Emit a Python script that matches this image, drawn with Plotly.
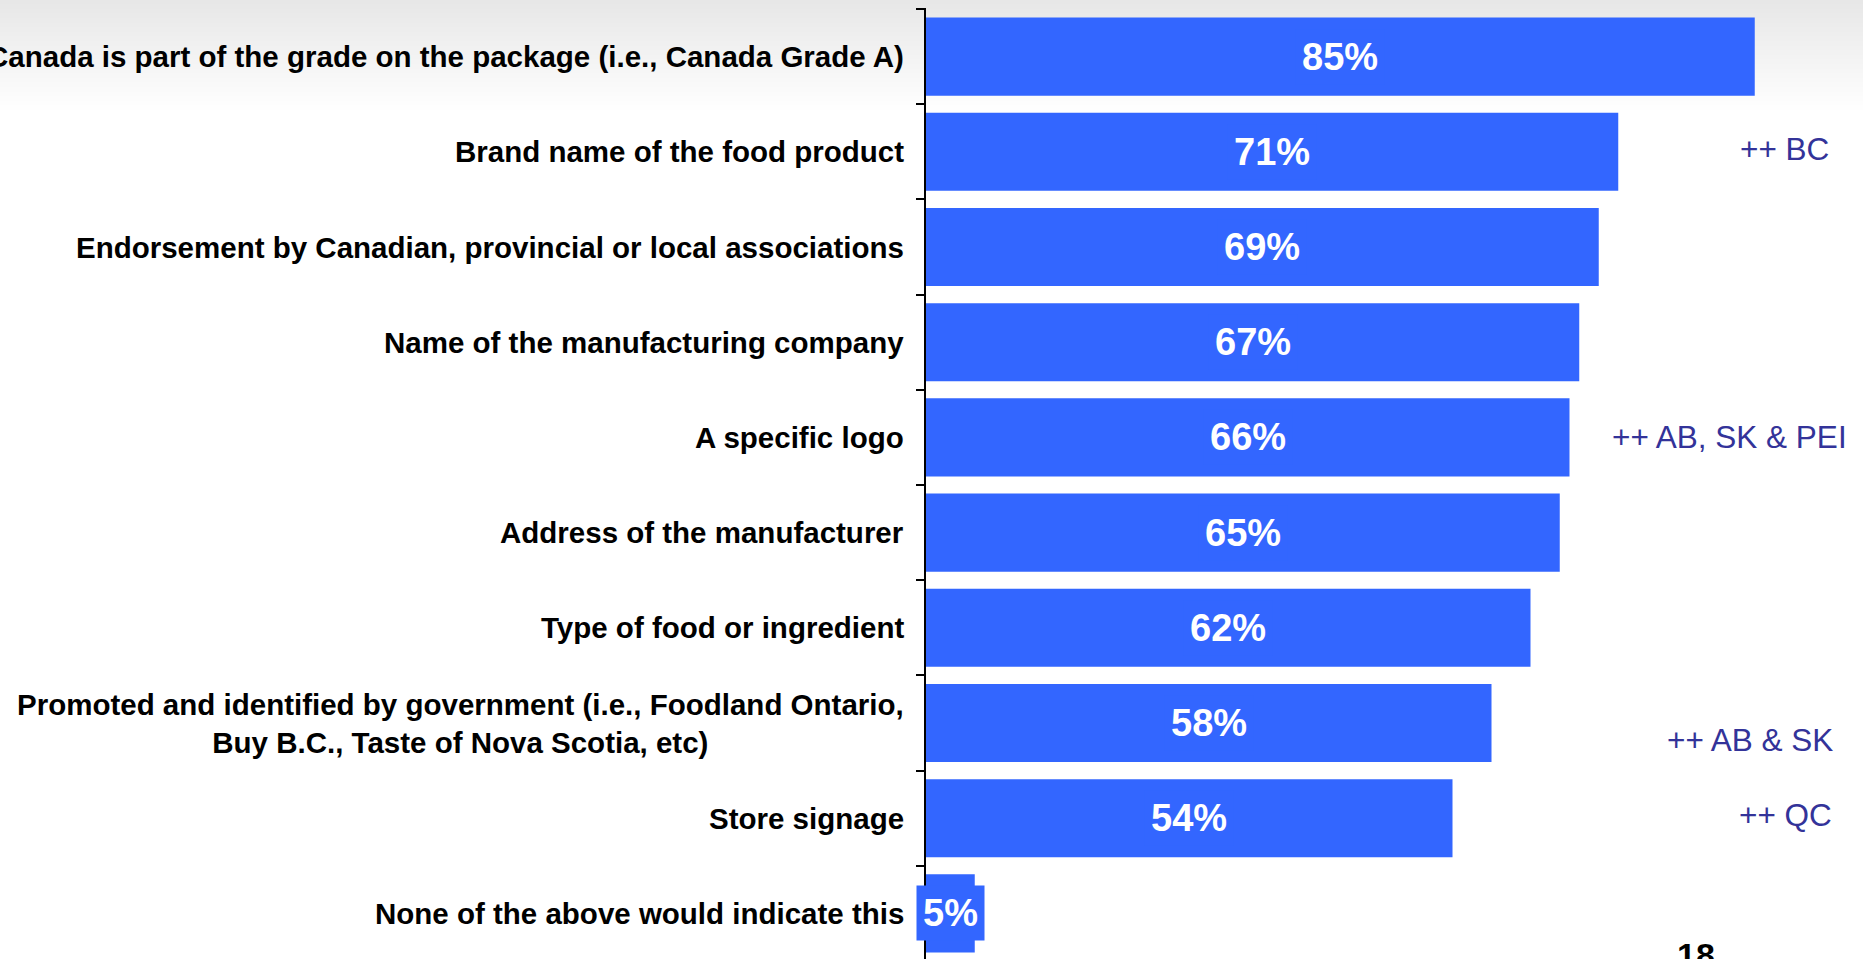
import plotly.graph_objects as go

# Survey items and share of respondents (%)
categories = [
    "Canada is part of the grade on the package (i.e., Canada Grade A)",
    "Brand name of the food product",
    "Endorsement by Canadian, provincial or local associations",
    "Name of the manufacturing company",
    "A specific logo",
    "Address of the manufacturer",
    "Type of food or ingredient",
    "Promoted and identified by government (i.e., Foodland Ontario,<br>Buy B.C., Taste of Nova Scotia, etc)",
    "Store signage",
    "None of the above would indicate this",
]
values = [85, 71, 69, 67, 66, 65, 62, 58, 54, 5]

# Regional call-outs: (row index, text, x right edge in axis units, vertical shift px)
callouts = [
    (1, "++ BC", 92.8, 3),
    (4, "++ AB, SK & PEI", 94.7, 0),
    (7, "++ AB & SK", 93.2, -17),
    (8, "++ QC", 93.1, 3),
]
page_number = "18"

BAR = "#3366FF"
CALLOUT = "#333399"
FONT = "Liberation Sans, Arial, sans-serif"

W, H = 1863, 959
L, R, T, B = 926, 1, 8, 0

fig = go.Figure()

fig.add_trace(go.Bar(
    x=values,
    y=categories,
    orientation="h",
    marker=dict(color=BAR, line=dict(width=0)),
    width=0.82,
    hoverinfo="skip",
    showlegend=False,
))

annotations = []

# Category labels, right-aligned against the axis, lines centred
for cat in categories:
    annotations.append(dict(
        x=0, xref="paper", y=cat, yref="y",
        text=cat, showarrow=False,
        xanchor="right", yanchor="middle", align="center",
        xshift=-20,
        font=dict(family=FONT, size=29.5, color="black", weight="bold"),
    ))

# Value labels centred on each bar
for cat, v in zip(categories, values):
    annotations.append(dict(
        x=v / 2, xref="x", y=cat, yref="y",
        text=f"{v}%", showarrow=False,
        xanchor="center", yanchor="middle",
        bgcolor=BAR, borderpad=6,
        font=dict(family=FONT, size=38, color="white", weight="bold"),
    ))

for idx, txt, xr, dy in callouts:
    annotations.append(dict(
        x=xr, xref="x", y=categories[idx], yref="y",
        text=txt, showarrow=False,
        xanchor="right", yanchor="middle", yshift=dy,
        font=dict(family=FONT, size=31.5, color=CALLOUT),
    ))

plot_w = W - L - R
plot_h = H - T - B

annotations.append(dict(
    x=(1696 - L) / plot_w, xref="paper",
    y=(H - 934) / plot_h, yref="paper",
    text=page_number, showarrow=False,
    xanchor="center", yanchor="top",
    font=dict(family=FONT, size=34, color="black", weight="bold"),
))

# Faint grey haze across the top of the page, fading downward
shapes = []
for i in range(24):
    bottom_px = (i + 1) * 4.6
    shapes.append(dict(
        type="rect", xref="paper", yref="paper",
        x0=-L / plot_w, x1=1 + R / plot_w,
        y0=(H - bottom_px) / plot_h, y1=H / plot_h,
        fillcolor="black", opacity=0.0035, line=dict(width=0), layer="below",
    ))

px_per_cat = 95.2
top_val = -0.5 - 1 / px_per_cat
bottom_val = top_val + plot_h / px_per_cat

fig.update_layout(
    width=W, height=H,
    margin=dict(l=L, r=R, t=T, b=B, pad=0),
    paper_bgcolor="white",
    plot_bgcolor="rgba(0,0,0,0)",
    bargap=0.18,
    annotations=annotations,
    shapes=shapes,
    xaxis=dict(range=[0, plot_w / 9.75], visible=False, fixedrange=True),
    yaxis=dict(
        type="category",
        categoryorder="array", categoryarray=categories,
        range=[bottom_val, top_val],
        showticklabels=False,
        showline=True, linecolor="black", linewidth=2,
        ticks="outside", ticklen=8, tickwidth=2, tickcolor="black",
        tickson="boundaries",
        showgrid=False, zeroline=False, fixedrange=True,
    ),
)

fig.write_html("out.html")
